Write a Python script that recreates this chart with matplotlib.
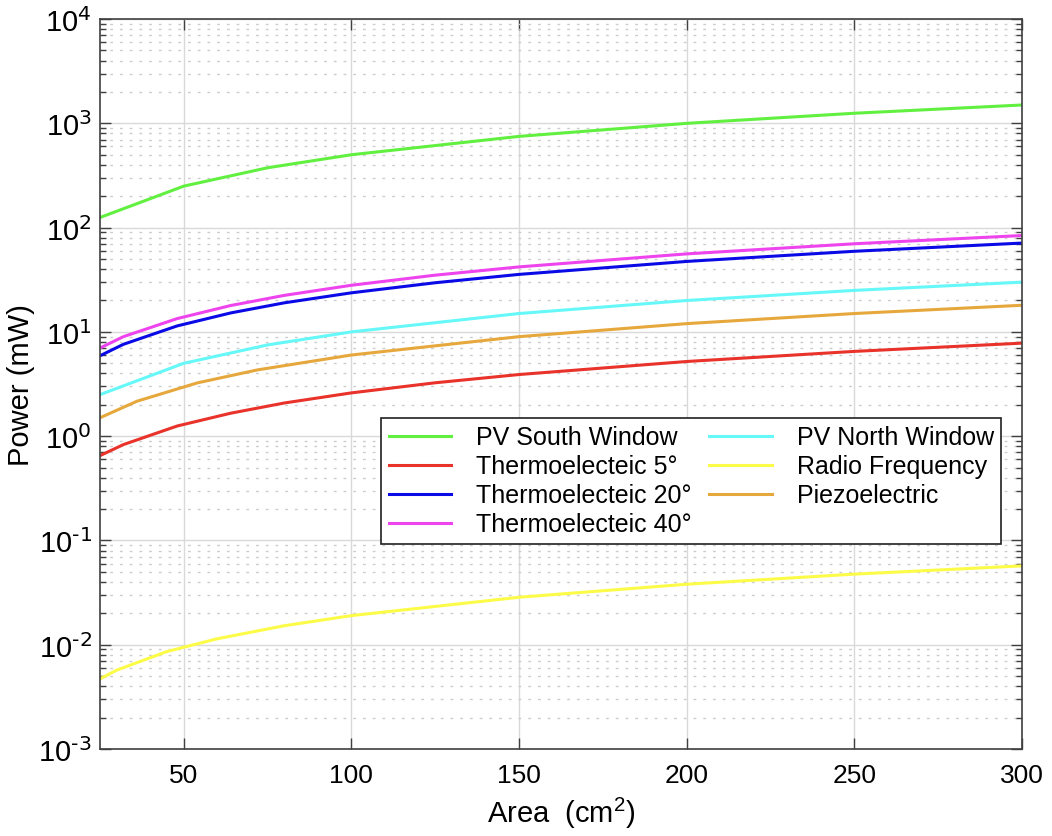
import matplotlib
matplotlib.use("Agg")
import matplotlib.pyplot as plt
from matplotlib.ticker import LogLocator, FixedLocator, NullFormatter

plt.rcParams["font.family"] = ["Liberation Sans", "DejaVu Sans"]
plt.rcParams["mathtext.default"] = "regular"

# area samples (cm^2) and power (mW)
area_south = [25, 50, 75, 100, 150, 200, 250, 300]
pv_south = [125, 250, 375, 500, 750, 1000, 1250, 1500]

area_north = [25, 50, 75, 100, 150, 200, 250, 300]
pv_north = [2.5, 5.0, 7.5, 10, 15, 20, 25, 30]

area_te = [25, 32, 48, 64, 80, 100, 125, 150, 200, 250, 300]
te_5 = [0.65, 0.83, 1.25, 1.66, 2.08, 2.6, 3.25, 3.9, 5.2, 6.5, 7.8]
te_20 = [5.9, 7.6, 11.4, 15.2, 19.0, 23.7, 29.6, 35.6, 47.4, 59.3, 71.1]
te_40 = [7.0, 9.0, 13.4, 17.9, 22.4, 28, 35, 42, 56, 70, 84]

area_piezo = [25, 36, 54, 72, 100, 150, 200, 250, 300]
piezo = [1.5, 2.16, 3.24, 4.32, 6.0, 9.0, 12, 15, 18]

area_rf = [25, 30, 45, 60, 80, 100, 150, 200, 250, 300]
radio = [0.0047, 0.0057, 0.0086, 0.0114, 0.0152, 0.019, 0.0285, 0.038, 0.0475, 0.057]

xticks = [50, 100, 150, 200, 250, 300]
yexps = [-3, -2, -1, 0, 1, 2, 3, 4]

fig = plt.figure(figsize=(10.52, 8.37), dpi=100)
ax = fig.add_axes([0.095, 0.104, 0.8765, 0.872])

lw = 2.2
ax.plot(area_south, pv_south, color="#62f040", lw=lw, label="PV South Window")
ax.plot(area_te, te_5, color="#e8322a", lw=lw, label="Thermoelecteic 5°")
ax.plot(area_te, te_20, color="#0a0ae6", lw=lw, label="Thermoelecteic 20°")
ax.plot(area_te, te_40, color="#ee44ee", lw=lw, label="Thermoelecteic 40°")
ax.plot(area_north, pv_north, color="#66f8f8", lw=lw, label="PV North Window")
ax.plot(area_rf, radio, color="#fcfc48", lw=lw, label="Radio Frequency")
ax.plot(area_piezo, piezo, color="#e6a83c", lw=lw, label="Piezoelectric")

ax.set_yscale("log")
ax.set_xlim(25, 300)
ax.set_ylim(1e-3, 1e4)

ax.xaxis.set_major_locator(FixedLocator(xticks))
ax.set_xticklabels([str(t) for t in xticks])
ax.yaxis.set_major_locator(FixedLocator([10.0 ** e for e in yexps]))
ax.set_yticklabels([f"$10^{{\\text{{{e}}}}}$" for e in yexps])
ax.yaxis.set_minor_locator(LogLocator(base=10, subs=range(2, 10), numticks=20))
ax.yaxis.set_minor_formatter(NullFormatter())

ax.tick_params(which="both", direction="in", top=True, right=True, color="#404040")
ax.tick_params(which="major", length=8, width=1)
ax.tick_params(which="minor", length=4, width=1)
ax.tick_params(axis="x", labelsize=19, pad=10)
ax.tick_params(axis="y", labelsize=21, pad=6)

ax.grid(which="major", color="#d9d9d9", linestyle="-", linewidth=1)
ax.grid(which="minor", axis="y", color="#cccccc", linestyle=(0, (2, 5)), linewidth=1)
ax.set_axisbelow(True)

for sp in ax.spines.values():
    sp.set_color("#404040")
    sp.set_linewidth(1.2)

ax.set_xlabel("Area  (cm$^2$)", fontsize=21, labelpad=6)
ax.set_ylabel("Power (mW)", fontsize=21, labelpad=2)

leg = ax.legend(ncol=2, loc="lower left", bbox_to_anchor=(0.305, 0.281),
                borderaxespad=0, fontsize=18, frameon=True, fancybox=False,
                framealpha=1, edgecolor="#202020", handlelength=2.5,
                columnspacing=0.7, labelspacing=0.2, handletextpad=1.0,
                borderpad=0.3)
leg.get_frame().set_linewidth(1.2)

fig.savefig("out.png", dpi=100)
